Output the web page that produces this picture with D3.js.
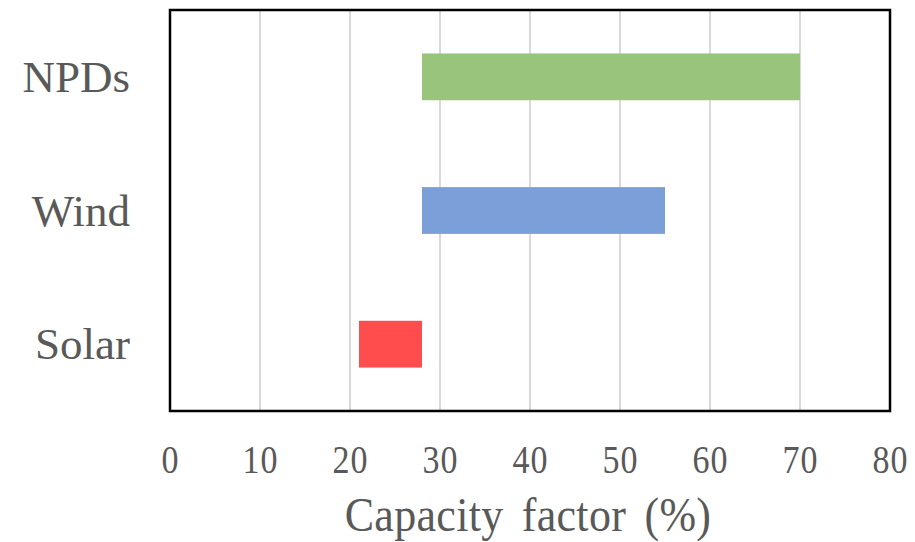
<!DOCTYPE html>
<html>
<head>
<meta charset="utf-8">
<script src="https://cdn.jsdelivr.net/npm/d3@7"></script>
<style>
  html, body { margin: 0; padding: 0; background: #fff; }
  svg text { font-family: "Liberation Serif", "Times New Roman", serif; fill: #595959; }
</style>
</head>
<body>
<svg id="chart" width="915" height="542"></svg>
<script>
const categories = ["NPDs", "Wind", "Solar"];
const rangeStart = [28, 28, 21];
const rangeEnd = [70, 55, 28];
const barColors = ["#98c47c", "#7a9fd9", "#ff4c4c"];
const xTicks = [0, 10, 20, 30, 40, 50, 60, 70, 80];
const xTitle = "Capacity factor (%)";

const svg = d3.select("#chart");
const mLeft = 170, mRight = 890, mTop = 10, mBottom = 411;

const x = d3.scaleLinear().domain([0, 80]).range([mLeft, mRight]);
const y = d3.scaleBand().domain(categories).range([mTop, mBottom]).paddingInner(0.65).paddingOuter(0.325);

// gridlines
svg.append("g").selectAll("line").data(xTicks.slice(1, -1)).join("line")
  .attr("x1", d => x(d)).attr("x2", d => x(d))
  .attr("y1", mTop).attr("y2", mBottom)
  .attr("stroke", "#d9d9d9").attr("stroke-width", 2);

// bars
const data = categories.map((c, i) => ({ c, s: rangeStart[i], e: rangeEnd[i], color: barColors[i] }));
svg.append("g").selectAll("rect").data(data).join("rect")
  .attr("x", d => x(d.s)).attr("width", d => x(d.e) - x(d.s))
  .attr("y", d => y(d.c)).attr("height", y.bandwidth())
  .attr("fill", d => d.color);

// frame
svg.append("rect").attr("x", mLeft).attr("y", mTop)
  .attr("width", mRight - mLeft).attr("height", mBottom - mTop)
  .attr("fill", "none").attr("stroke", "#000").attr("stroke-width", 2.5);

// x axis tick labels
const xAxis = d3.axisBottom(x).tickValues(xTicks).tickSize(0).tickPadding(0);
const gx = svg.append("g").attr("transform", `translate(0,${mBottom})`).call(xAxis);
gx.select(".domain").remove();
gx.selectAll("text")
  .attr("y", 0).attr("dy", null)
  .attr("transform", "translate(0,62) scale(1,1.16)")
  .style("font-size", "34px").style("letter-spacing", "1px").attr("fill", "#595959");

// y axis labels
const yAxis = d3.axisLeft(y).tickSize(0).tickPadding(0);
const gy = svg.append("g").attr("transform", `translate(130,0)`).call(yAxis);
gy.select(".domain").remove();
gy.selectAll("text")
  .attr("x", 0).attr("dy", "0.34em")
  .style("font-size", "45px").attr("fill", "#595959");

// x title
svg.append("text")
  .attr("transform", `translate(${(348 + 708) / 2},531) scale(1,1.12)`)
  .attr("text-anchor", "middle")
  .style("font-size", "44px").style("word-spacing", "7px").style("letter-spacing", "0.3px")
  .text(xTitle);
</script>
</body>
</html>
